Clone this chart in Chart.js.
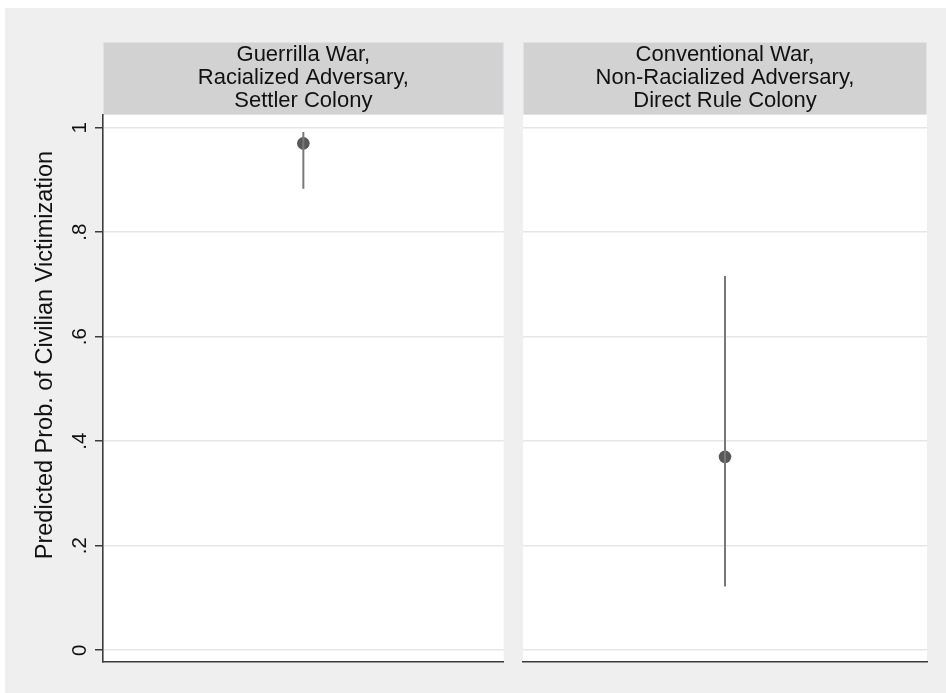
<!DOCTYPE html>
<html lang="en">
<head>
    <meta charset="UTF-8">
    <title>Predicted Prob. of Civilian Victimization</title>
    <script src="https://cdn.jsdelivr.net/npm/chart.js"></script>
    <style>
        body {
            margin: 0;
            padding: 0;
            background: #fff;
            width: 946px;
            height: 693px;
            overflow: hidden;
            position: relative;
            font-family: 'Liberation Sans', Arial, Helvetica, sans-serif;
        }
        .backdrop {
            position: absolute;
            left: 5px;
            top: 8px;
            width: 941px;
            height: 685px;
            background: #efefef;
        }
        canvas {
            position: absolute;
            top: 0;
        }
        #leftPanel { left: 0; }
        #rightPanel { left: 510px; }
        /* y title sits centred on the whole graph (header + plot), like Stata's by() graphs */
        #yTitle {
            position: absolute;
            left: 44px;
            top: 354.5px;
            width: 500px;
            height: 24px;
            line-height: 24px;
            font-size: 23.5px;
            color: #111;
            text-align: center;
            white-space: nowrap;
            transform: translate(-50%, -50%) rotate(-90deg);
        }
    </style>
</head>
<body>
    <div class="backdrop"></div>
    <canvas id="leftPanel" width="510" height="693"></canvas>
    <canvas id="rightPanel" width="436" height="693"></canvas>
    <div id="yTitle"></div>

    <script>
        // panel headings (one per subplot)
        const panelTitles = [
            ['Guerrilla War,', 'Racialized Adversary,', 'Settler Colony'],
            ['Conventional War,', 'Non-Racialized Adversary,', 'Direct Rule Colony']
        ];
        // predicted probability and 95% interval
        const estimates = [0.970, 0.370];
        const lowerCI = [0.883, 0.122];
        const upperCI = [0.992, 0.716];

        const yTicks = [0, 0.2, 0.4, 0.6, 0.8, 1];
        const yTickLabels = ['0', '.2', '.4', '.6', '.8', '1'];
        const yTitle = 'Predicted Prob. of Civilian Victimization';

        const FONT = 'Liberation Sans, Arial, Helvetica, sans-serif';

        document.getElementById('yTitle').textContent = yTitle;

        // white plot region + grey header strip
        const panelBackground = {
            id: 'panelBackground',
            beforeDraw(chart) {
                const { ctx, chartArea } = chart;
                ctx.save();
                ctx.fillStyle = '#ffffff';
                ctx.fillRect(chartArea.left, chartArea.top, chartArea.right - chartArea.left, chartArea.bottom - chartArea.top);
                ctx.fillStyle = '#d2d2d2';
                ctx.fillRect(chartArea.left, 42, chartArea.right - chartArea.left, chartArea.top - 42);
                ctx.strokeStyle = '#dde3e8';
                ctx.lineWidth = 1;
                ctx.strokeRect(chartArea.left + 0.5, 42.5, chartArea.right - chartArea.left - 1, chartArea.top - 43);
                ctx.restore();
            }
        };

        function makePanel(canvasId, i, showAxis) {
            const ctx = document.getElementById(canvasId).getContext('2d');
            return new Chart(ctx, {
                data: {
                    datasets: [
                        {
                            type: 'line',
                            data: [{ x: 0.5, y: lowerCI[i] }, { x: 0.5, y: upperCI[i] }],
                            borderColor: '#787878',
                            borderWidth: 2,
                            pointRadius: 0,
                            fill: false
                        },
                        {
                            type: 'scatter',
                            data: [{ x: 0.5, y: estimates[i] }],
                            backgroundColor: '#585858',
                            borderWidth: 0,
                            pointRadius: 6.3
                        }
                    ]
                },
                options: {
                    responsive: false,
                    animation: false,
                    devicePixelRatio: 1,
                    layout: { padding: { left: 0, right: showAxis ? 3 : 19, top: 0, bottom: 0 } },
                    plugins: {
                        legend: { display: false },
                        tooltip: { enabled: false },
                        title: {
                            display: true,
                            fullSize: false,
                            text: panelTitles[i],
                            color: '#111',
                            font: { family: FONT, size: 22, weight: 'normal', lineHeight: 23 / 22 },
                            padding: { top: 43, bottom: 3 }
                        }
                    },
                    scales: {
                        x: {
                            type: 'linear',
                            min: 0,
                            max: 1,
                            ticks: { display: false },
                            grid: { display: false, drawTicks: false },
                            border: { display: true, color: '#3c3c3c', width: 1.6 },
                            afterFit(scale) { scale.height = 31; }
                        },
                        y: {
                            type: 'linear',
                            min: -0.0226,
                            max: 1.0243,
                            afterBuildTicks(scale) {
                                scale.ticks = yTicks.map(v => ({ value: v }));
                            },
                            afterFit(scale) { scale.width = showAxis ? 103 : 13; },
                            ticks: {
                                display: showAxis,
                                minRotation: 90,
                                maxRotation: 90,
                                crossAlign: 'center',
                                padding: 6.5,
                                color: '#111',
                                font: { family: FONT, size: 20.5 },
                                callback: (v) => {
                                    const k = yTicks.findIndex(t => Math.abs(t - v) < 1e-9);
                                    return k >= 0 ? yTickLabels[k] : '';
                                }
                            },
                            grid: {
                                color: '#e6e6e6',
                                lineWidth: 1.5,
                                drawTicks: showAxis,
                                tickLength: 8,
                                tickColor: '#3c3c3c',
                                tickWidth: 1.5
                            },
                            border: { display: showAxis, color: '#3c3c3c', width: 1.6 },
                            title: { display: false }
                        }
                    }
                },
                plugins: [panelBackground]
            });
        }

        makePanel('leftPanel', 0, true);
        makePanel('rightPanel', 1, false);
    </script>
</body>
</html>
